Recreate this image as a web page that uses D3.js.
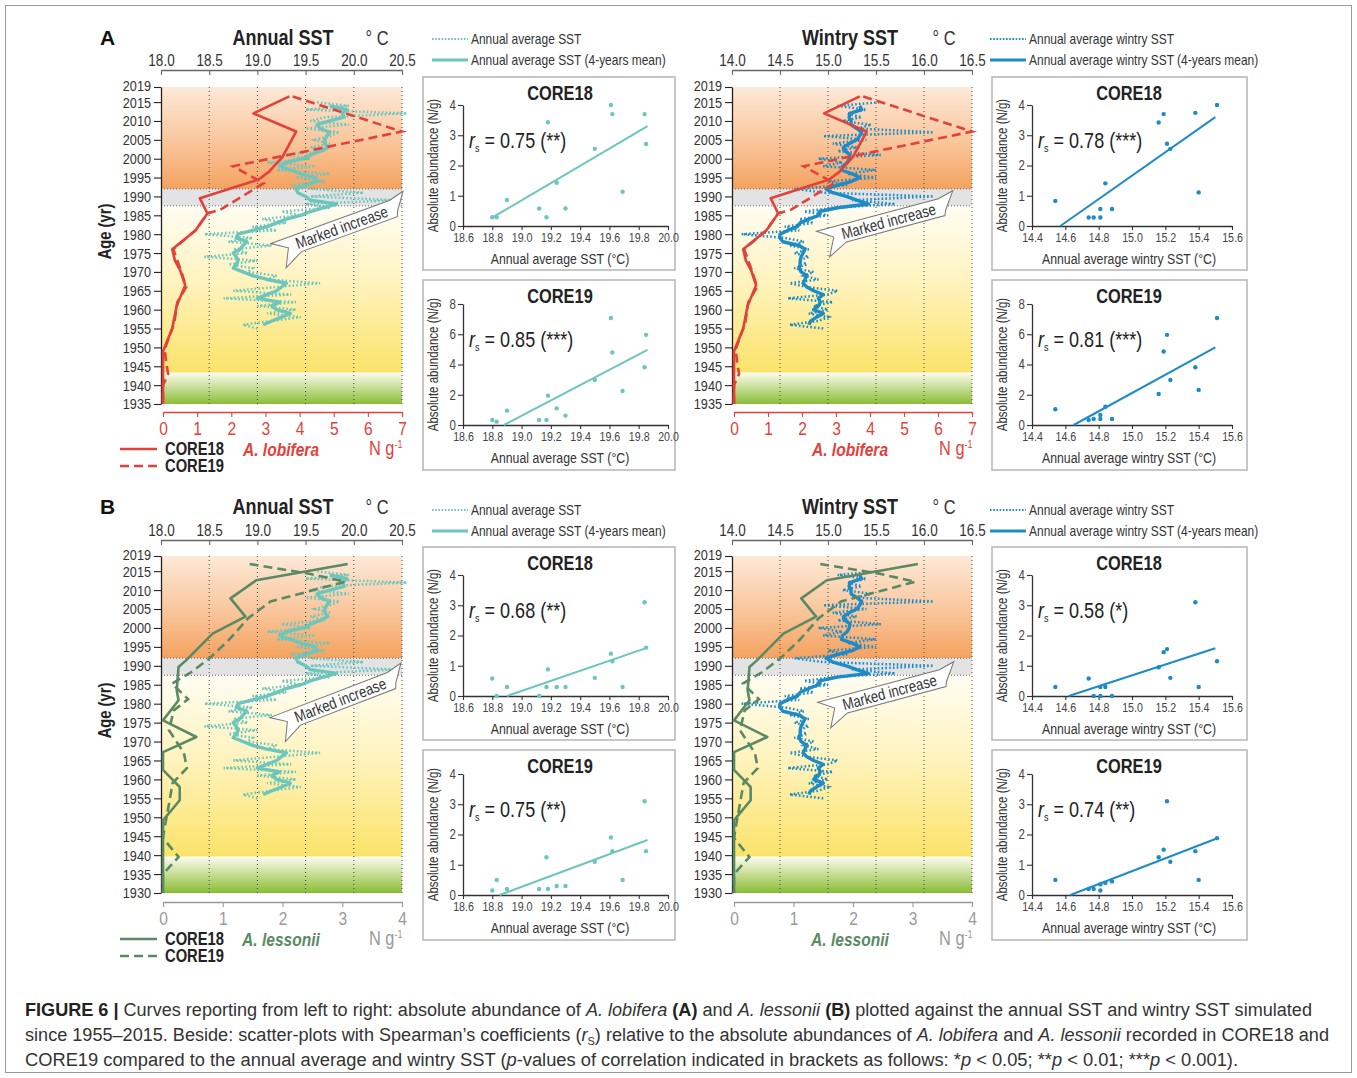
<!DOCTYPE html>
<html>
<head>
<meta charset="utf-8">
<script src="https://cdn.jsdelivr.net/npm/d3@7"></script>
<style>
  body { margin: 0; background: #fff; }
  svg text { font-family: "Liberation Sans", Arial, sans-serif; }
</style>
</head>
<body>
<svg id="fig" width="1357" height="1078"></svg>
<script>
// ---- data ----
const annualYears = d3.range(1955, 2016);   // yearly SST values
const meanYears = d3.range(1956, 2015);     // 4-year running mean values

const sstAnnual = [19.0, 18.85, 19.15, 19.45, 19.1, 19.4, 19.0, 19.4, 18.65, 19.35,
  18.75, 19.2, 19.65, 19.1, 19.2, 18.9, 18.95, 18.7, 19.0, 18.45,
  18.9, 18.75, 19.15, 18.7, 18.95, 18.45, 19.2, 18.95, 19.3, 19.05,
  19.45, 19.25, 19.75, 19.5, 20.45, 19.55, 20.1, 19.55, 19.35, 19.7,
  19.4, 19.75, 19.2, 19.6, 19.1, 19.55, 19.25, 19.7, 19.55, 19.75,
  19.6, 19.75, 19.85, 19.5, 19.95, 19.55, 19.7, 20.55, 19.5, 19.95, 19.6];
const sstMean = [19.06, 19.15, 19.25, 19.34, 19.2, 19.15, 19.23, 19.0, 19.1, 19.2,
  19.25, 19.3, 19.1, 18.95, 18.85, 18.75, 18.78, 18.8, 18.78, 18.75,
  18.82, 18.85, 18.89, 18.78, 18.8, 18.95, 19.1, 19.2, 19.3, 19.45,
  19.55, 19.68, 19.82, 19.55, 19.5, 19.42, 19.4, 19.5, 19.62, 19.6,
  19.45, 19.35, 19.23, 19.3, 19.47, 19.55, 19.65, 19.73, 19.7, 19.7,
  19.72, 19.75, 19.65, 19.62, 19.75, 19.9, 19.88, 19.93, 19.75];

const wintryAnnual = [14.95, 14.6, 14.9, 15.0, 14.8, 15.0, 14.85, 15.05, 14.58, 15.0,
  15.1, 14.78, 14.6, 14.9, 14.75, 14.85, 14.65, 14.78, 14.7, 14.8,
  14.65, 14.8, 14.6, 14.75, 14.55, 14.1, 14.7, 14.55, 14.85, 14.7,
  15.0, 14.75, 15.05, 15.7, 15.25, 16.1, 14.95, 14.65, 15.2, 15.0,
  15.5, 15.2, 15.5, 14.95, 15.15, 14.9, 15.55, 15.1, 15.3, 15.05,
  15.4, 14.95, 16.1, 15.3, 15.45, 15.15, 15.35, 15.2, 15.4, 15.1, 15.55];
const wintryMean = [14.8, 14.82, 14.88, 14.95, 14.85, 14.9, 14.92, 14.9, 14.95, 14.85,
  14.78, 14.74, 14.76, 14.78, 14.72, 14.7, 14.71, 14.71, 14.72, 14.74,
  14.76, 14.7, 14.53, 14.5, 14.5, 14.58, 14.68, 14.71, 14.8, 14.9,
  14.91, 15.1, 15.42, 15.3, 15.19, 15.05, 14.98, 15.1, 15.25, 15.33,
  15.25, 15.14, 15.15, 15.2, 15.22, 15.23, 15.18, 15.16, 15.22, 15.3,
  15.33, 15.35, 15.3, 15.24, 15.24, 15.22, 15.23, 15.35, 15.33];

// [age (yr), abundance N/g]
const lobifera18 = [[2016.5, 3.7], [2012, 2.65], [2007.2, 3.9], [2000.5, 3.5], [1996.5, 3.1],
  [1994.5, 2.8], [1989.5, 1.08], [1985.5, 1.3], [1981, 0.95], [1976, 0.27], [1973, 0.35],
  [1970.5, 0.5], [1966.5, 0.65], [1961, 0.4], [1955, 0.27], [1949, 0], [1935, 0]];
const lobifera19 = [[2016.5, 3.8], [2007.2, 7.0], [1998, 2.05], [1993.5, 2.95], [1986.5, 1.68],
  [1985.5, 1.3], [1981, 0.95], [1976, 0.3], [1970.5, 0.52], [1966, 0.68], [1962, 0.42],
  [1956.5, 0.33], [1949.5, 0.05], [1945.5, 0.1], [1943, 0.15], [1940, 0], [1935, 0]];
const lessonii18 = [[2016.9, 3.09], [2012.6, 1.56], [2007.8, 1.13], [2003, 1.38], [1998.5, 0.83],
  [1991.5, 0.39], [1989.7, 0.26], [1983.5, 0.23], [1980.9, 0.26], [1975.6, 0], [1971.2, 0.56],
  [1967.2, 0], [1962.5, 0], [1958, 0.28], [1954.5, 0.28], [1949.2, 0], [1930, 0]];
const lessonii19 = [[2016.9, 1.45], [2014.3, 2.45], [2012.2, 3.05], [2007, 1.8], [2002.5, 1.42],
  [1996.8, 1.1], [1992, 0.78], [1988.3, 0.47], [1985.3, 0.15], [1981.2, 0.42], [1978.2, 0.18],
  [1973, 0.1], [1967, 0.35], [1963, 0.4], [1959, 0.16], [1953.5, 0.1], [1947.5, 0.03],
  [1944.5, 0], [1939.5, 0.26], [1935, 0], [1930, 0]];

// scatter plots: x = SST of the sample, y = abundance
const scatAnnualX = [18.80, 18.83, 18.90, 19.12, 19.17, 19.18, 19.24, 19.30, 19.50, 19.61, 19.62, 19.69, 19.84, 19.85];
const scatWintryX = [14.54, 14.74, 14.77, 14.81, 14.81, 14.84, 14.88, 15.16, 15.19, 15.21, 15.23, 15.38, 15.40, 15.51];
const lobA18 = [0.29, 0.29, 0.86, 0.58, 0.29, 3.43, 1.43, 0.58, 2.55, 4.0, 3.70, 1.13, 3.70, 2.71];
const lobA19 = [0.33, 0.22, 0.95, 0.33, 0.33, 1.94, 1.1, 0.62, 2.98, 7.07, 4.79, 2.25, 3.82, 5.96];
const lobW18 = [0.83, 0.28, 0.28, 0.56, 0.28, 1.41, 0.56, 3.42, 3.7, 2.72, 2.55, 3.74, 1.11, 4.0];
const lobW19 = [1.04, 0.33, 0.4, 0.66, 0.4, 1.21, 0.4, 2.05, 4.86, 5.96, 2.98, 3.82, 2.32, 7.07];
const lesA18 = [0.58, 0, 0.3, 0, 0.3, 0.88, 0.3, 0.3, 0.6, 1.4, 1.15, 0.3, 3.1, 1.6];
const lesA19 = [0.15, 0.5, 0.2, 0.2, 1.25, 0.2, 0.3, 0.3, 1.1, 1.9, 1.45, 0.5, 3.1, 1.45];
const lesW18 = [0.3, 0.58, 0, 0.3, 0, 0.3, 0, 0.95, 1.45, 1.55, 0.6, 3.1, 0.3, 1.15];
const lesW19 = [0.5, 0.2, 0.2, 0.35, 0.15, 0.4, 0.45, 1.25, 1.5, 3.1, 1.1, 1.45, 0.5, 1.88];
// regression line end points [sst, abundance]
const regLobA18 = [[18.79, 0.25], [19.86, 3.3]];
const regLobA19 = [[18.88, 0], [19.86, 4.97]];
const regLobW18 = [[14.57, 0], [15.5, 3.6]];
const regLobW19 = [[14.65, 0], [15.5, 5.13]];
const regLesA18 = [[18.9, 0], [19.86, 1.6]];
const regLesA19 = [[18.85, 0], [19.86, 1.82]];
const regLesW18 = [[14.62, 0], [15.5, 1.58]];
const regLesW19 = [[14.63, 0], [15.5, 1.85]];

const sstTicksAnnual = [18.0, 18.5, 19.0, 19.5, 20.0, 20.5];
const sstTicksWintry = [14.0, 14.5, 15.0, 15.5, 16.0, 16.5];
const ageTicksA = [2019, 2015, 2010, 2005, 2000, 1995, 1990, 1985, 1980, 1975, 1970, 1965, 1960, 1955, 1950, 1945, 1940, 1935];
const ageTicksB = ageTicksA.concat([1930]);
const scatTicksAnnual = [18.6, 18.8, 19.0, 19.2, 19.4, 19.6, 19.8, 20.0];
const scatTicksWintry = [14.4, 14.6, 14.8, 15.0, 15.2, 15.4, 15.6];

const RED = '#e3413b', TEAL = '#6cc6bd', BLUE = '#1d8bc8', GREEN = '#5a8a64';
const NARROW = 0.82;  // Arial Narrow look: Liberation Sans squeezed horizontally

const svg = d3.select('#fig');
svg.append('rect').attr('x', 5.5).attr('y', 5.5).attr('width', 1346).attr('height', 1067)
  .attr('fill', 'none').attr('stroke', '#9a9a9a').attr('stroke-width', 1);

// gradients for the background zones
const defs = svg.append('defs');
function vGrad(id, stops) {
  const lg = defs.append('linearGradient').attr('id', id).attr('x1', 0).attr('y1', 0).attr('x2', 0).attr('y2', 1);
  stops.forEach(s => lg.append('stop').attr('offset', s[0]).attr('stop-color', s[1]));
}
vGrad('gOrange', [[0, '#fde9d8'], [0.55, '#f9c59a'], [1, '#f4a25f']]);
vGrad('gYellow', [[0, '#fffdf3'], [0.45, '#fff3bf'], [1, '#fbe36a']]);
vGrad('gGreen', [[0, '#fdfdf2'], [0.2, '#e6efc8'], [1, '#8bbd36']]);

function styleAxis(sel, color, textColor, size) {
  sel.select('.domain').attr('stroke', color).attr('stroke-width', 1.3);
  sel.selectAll('.tick line').attr('stroke', color).attr('stroke-width', 1.1);
  sel.selectAll('.tick text').attr('fill', textColor).style('font-size', size + 'px');
}

function arrow(g, a) {
  const ag = g.append('g').attr('transform', `translate(${a.x},${a.y}) rotate(${a.angle})`);
  ag.append('path')
    .attr('d', 'M0,-9 L126,-9 L142,-13 L130,4 L128,9 L26,9 L6,19 L15,1 Z')
    .attr('fill', '#fff').attr('stroke', '#777').attr('stroke-width', 1);
  ag.append('text').attr('x', 72).attr('y', 5.5).attr('text-anchor', 'middle')
    .style('font-size', '16px').attr('fill', '#333').text('Marked increase');
}

function strat(p) {
  const g = svg.append('g');
  const y = d3.scaleLinear().domain([2019, p.yMin]).range([p.yTop, p.yBot]);
  const sx = d3.scaleLinear().domain([p.sstTicks[0], p.sstTicks[p.sstTicks.length - 1]]).range([p.x0, p.x1]);
  const ax = d3.scaleLinear().domain([0, p.abMax]).range([p.x0 + 2, p.x1]);
  const w = p.x1 - p.x0;

  const zone = (top, bot, fill) => g.append('rect').attr('x', p.x0).attr('width', w)
    .attr('y', y(top)).attr('height', y(bot) - y(top)).attr('fill', fill);
  zone(2019, 1992, 'url(#gOrange)');
  zone(1992, 1987.5, '#e3e3e3');
  zone(1987.5, p.greenTop, 'url(#gYellow)');
  zone(p.greenTop, p.yMin, 'url(#gGreen)');

  [1992, 1987.5].forEach(yr => g.append('line').attr('x1', p.x0).attr('x2', p.x1)
    .attr('y1', y(yr)).attr('y2', y(yr)).attr('stroke', '#666').attr('stroke-width', 1)
    .attr('stroke-dasharray', '1,2'));
  p.sstTicks.slice(1).forEach(t => g.append('line').attr('x1', sx(t)).attr('x2', sx(t))
    .attr('y1', p.yTop).attr('y2', p.yBot).attr('stroke', '#444').attr('stroke-width', 1)
    .attr('stroke-dasharray', '1,3'));

  // axes
  const top = g.append('g').attr('transform', `translate(0,${p.topY})`)
    .call(d3.axisTop(sx).tickValues(p.sstTicks).tickFormat(d3.format('.1f')).tickSizeInner(-5).tickSizeOuter(0).tickPadding(4));
  styleAxis(top, '#666', '#333', 16.5);
  const left = g.append('g').attr('transform', `translate(${p.x0},0)`)
    .call(d3.axisLeft(y).tickValues(p.ageTicks).tickFormat(d3.format('d')).tickSize(7).tickSizeOuter(0).tickPadding(3));
  styleAxis(left, '#222', '#333', 15.5);
  // the top label sits a little higher so it clears 2015
  left.selectAll('.tick').filter(d => d === 2019).select('text').attr('dy', '0.2em');
  const bottom = g.append('g').attr('transform', `translate(0,${p.bottomY})`)
    .call(d3.axisBottom(ax).tickValues(d3.range(0, p.abMax + 1)).tickFormat(d3.format('d')).tickSize(5).tickSizeOuter(0).tickPadding(5));
  styleAxis(bottom, p.abAxisColor, p.abTextColor, 19);

  // SST curves
  const sstLine = d3.line().x(d => sx(d[1])).y(d => y(d[0]));
  g.append('path').datum(annualYears.map((yr, i) => [yr, p.sstAnnual[i]]))
    .attr('d', sstLine).attr('fill', 'none').attr('stroke', p.sstColor)
    .attr('stroke-width', 2.5).attr('stroke-dasharray', '1.6,2.2');
  g.append('path').datum(meanYears.map((yr, i) => [yr, p.sstMean[i]]))
    .attr('d', sstLine).attr('fill', 'none').attr('stroke', p.sstColor)
    .attr('stroke-width', 3.4).attr('stroke-linejoin', 'round');

  // abundance curves
  const abLine = d3.line().x(d => ax(d[1])).y(d => y(d[0]));
  g.append('path').datum(p.core19).attr('d', abLine).attr('fill', 'none')
    .attr('stroke', p.abColor).attr('stroke-width', 2.6).attr('stroke-dasharray', '9,5');
  g.append('path').datum(p.core18).attr('d', abLine).attr('fill', 'none')
    .attr('stroke', p.abColor).attr('stroke-width', 2.6).attr('stroke-linejoin', 'round');

  arrow(g, p.arrow);

  // titles
  g.append('text').attr('x', p.titleX).attr('y', p.titleY).attr('text-anchor', 'middle')
    .style('font-size', '22px').style('font-weight', 'bold').attr('fill', '#222').text(p.title);
  g.append('text').attr('x', p.titleX + 94).attr('y', p.titleY).attr('text-anchor', 'middle')
    .style('font-size', '20px').attr('fill', '#333').text('° C');
  if (p.letter) {
    g.append('text').attr('class', 'wide').attr('x', 100).attr('y', p.titleY)
      .style('font-size', '21px').style('font-weight', 'bold').attr('fill', '#111').text(p.letter);
    g.append('text').attr('transform', `translate(111,${(p.yTop + p.yBot) / 2 - 14}) rotate(-90)`)
      .attr('text-anchor', 'middle').style('font-size', '18px').style('font-weight', 'bold')
      .attr('fill', '#222').text('Age (yr)');
  }
  // species & unit
  g.append('text').attr('x', p.speciesX).attr('y', p.bottomY + 44).attr('text-anchor', 'middle')
    .style('font-size', '19px').style('font-weight', 'bold').style('font-style', 'italic')
    .attr('fill', p.abColor).text(p.species);
  const u = g.append('text').attr('x', p.x1 - 33).attr('y', p.bottomY + 43)
    .style('font-size', '20px').attr('fill', p.abTextColor).text('N g');
  u.append('tspan').attr('dy', -7).style('font-size', '11px').text('-1');

  if (p.legendX) {
    [['CORE18', null, 0], ['CORE19', '9,5', 17]].forEach(([lab, dash, dy]) => {
      const ly = p.bottomY + 37 + dy;
      g.append('line').attr('x1', p.legendX).attr('x2', p.legendX + 37).attr('y1', ly).attr('y2', ly)
        .attr('stroke', p.abColor).attr('stroke-width', 2.6).attr('stroke-dasharray', dash);
      g.append('text').attr('x', p.legendX + 45).attr('y', ly + 6).style('font-size', '18px')
        .style('font-weight', 'bold').attr('fill', '#222').text(lab);
    });
  }
}

function sstLegend(x, y0, color, label) {
  const g = svg.append('g');
  [[label, '1.6,1.6', 0], [label + ' (4-years mean)', null, 21]].forEach(([lab, dash, dy]) => {
    g.append('line').attr('x1', x).attr('x2', x + 36).attr('y1', y0 + dy).attr('y2', y0 + dy)
      .attr('stroke', color).attr('stroke-width', dash ? 2 : 3).attr('stroke-dasharray', dash);
    g.append('text').attr('x', x + 39).attr('y', y0 + dy + 5).style('font-size', '14.6px')
      .attr('fill', '#333').text(lab);
  });
}

function scatter(s) {
  const g = svg.append('g');
  g.append('rect').attr('x', s.bx).attr('y', s.by).attr('width', s.bw).attr('height', s.bh)
    .attr('fill', '#fff').attr('stroke', '#b5b5b5').attr('stroke-width', 1.5);
  const x = d3.scaleLinear().domain([s.xTicks[0], s.xTicks[s.xTicks.length - 1]]).range(s.xr);
  const y = d3.scaleLinear().domain([0, s.yMax]).range(s.yr);

  const xa = g.append('g').attr('transform', `translate(0,${s.yr[0]})`)
    .call(d3.axisBottom(x).tickValues(s.xTicks).tickFormat(d3.format('.1f')).tickSize(4).tickSizeOuter(0).tickPadding(3));
  styleAxis(xa, '#333', '#444', 13);
  const ya = g.append('g').attr('transform', `translate(${s.xr[0]},0)`)
    .call(d3.axisLeft(y).tickValues(d3.range(0, s.yMax + 0.01, s.yStep)).tickFormat(d3.format('d')).tickSize(5).tickSizeOuter(0).tickPadding(2));
  styleAxis(ya, '#333', '#444', 14);

  g.append('line').attr('x1', x(s.reg[0][0])).attr('y1', y(s.reg[0][1]))
    .attr('x2', x(s.reg[1][0])).attr('y2', y(s.reg[1][1]))
    .attr('stroke', s.color).attr('stroke-width', 2);
  g.selectAll('circle.pt').data(s.xs.map((v, i) => [v, s.ys[i]])).enter().append('circle')
    .attr('cx', d => x(d[0])).attr('cy', d => y(d[1])).attr('r', 2.2).attr('fill', s.color);

  g.append('text').attr('x', s.titleX).attr('y', s.by + 23).attr('text-anchor', 'middle')
    .style('font-size', '20px').style('font-weight', 'bold').attr('fill', '#222').text(s.title);
  g.append('text').attr('x', s.titleX).attr('y', s.yr[0] + 38).attr('text-anchor', 'middle')
    .style('font-size', '15px').attr('fill', '#333').text(s.xLabel);
  g.append('text').attr('transform', `translate(${s.bx + 15},${(s.yr[0] + s.yr[1]) / 2}) rotate(-90)`)
    .attr('text-anchor', 'middle').style('font-size', '14px').attr('fill', '#333').text('Absolute abundance (N/g)');
  const r = g.append('text').attr('x', s.xr[0] + 6).attr('y', s.yr[1] + 43).style('font-size', '22px').attr('fill', '#222');
  r.append('tspan').style('font-style', 'italic').text('r');
  r.append('tspan').attr('dy', 4).style('font-size', '11px').text('s');
  r.append('tspan').attr('dy', -4).text(' = ' + s.rs);
}

// ---- panel A ----
const panelA = { yTop: 87, yBot: 404, yMin: 1935, greenTop: 1943.3, ageTicks: ageTicksA, topY: 70, bottomY: 412, titleY: 45,
  abMax: 7, abColor: RED, abAxisColor: RED, abTextColor: RED, species: 'A. lobifera', core18: lobifera18, core19: lobifera19 };
const panelB = { yTop: 556, yBot: 893, yMin: 1930, greenTop: 1939.6, ageTicks: ageTicksB, topY: 540, bottomY: 902, titleY: 514,
  abMax: 4, abColor: GREEN, abAxisColor: '#999', abTextColor: '#999', species: 'A. lessonii', core18: lessonii18, core19: lessonii19 };
const annualSide = { x0: 161, x1: 402, sstTicks: sstTicksAnnual, sstAnnual: sstAnnual, sstMean: sstMean, sstColor: TEAL,
  title: 'Annual SST', titleX: 283, legendX: 120, speciesX: 281 };
const wintrySide = { x0: 732, x1: 972, sstTicks: sstTicksWintry, sstAnnual: wintryAnnual, sstMean: wintryMean, sstColor: BLUE,
  title: 'Wintry SST', titleX: 850, legendX: null, speciesX: 850 };

strat(Object.assign({}, panelA, annualSide, { letter: 'A', arrow: { x: 274, y: 252, angle: -20 } }));
strat(Object.assign({}, panelA, wintrySide, { arrow: { x: 819, y: 240, angle: -15 } }));
strat(Object.assign({}, panelB, annualSide, { letter: 'B', arrow: { x: 273, y: 726, angle: -21 } }));
strat(Object.assign({}, panelB, wintrySide, { arrow: { x: 820, y: 711, angle: -15 } }));

sstLegend(432, 39, TEAL, 'Annual average SST');
sstLegend(990, 39, BLUE, 'Annual average wintry SST');
sstLegend(432, 510, TEAL, 'Annual average SST');
sstLegend(990, 510, BLUE, 'Annual average wintry SST');

const annualBox = { bx: 423, bw: 252, xr: [463, 668], xTicks: scatTicksAnnual, xs: scatAnnualX, color: TEAL, titleX: 560, xLabel: 'Annual average SST (°C)' };
const wintryBox = { bx: 992, bw: 255, xr: [1032, 1232], xTicks: scatTicksWintry, xs: scatWintryX, color: BLUE, titleX: 1129, xLabel: 'Annual average wintry SST (°C)' };
const rows = [
  { by: 77, bh: 193, yr: [226, 105], title: 'CORE18' },
  { by: 280, bh: 190, yr: [425, 304], title: 'CORE19' },
  { by: 547, bh: 193, yr: [696, 575], title: 'CORE18' },
  { by: 750, bh: 190, yr: [895, 774], title: 'CORE19' }
];
scatter(Object.assign({}, annualBox, rows[0], { yMax: 4, yStep: 1, ys: lobA18, reg: regLobA18, rs: '0.75 (**)' }));
scatter(Object.assign({}, annualBox, rows[1], { yMax: 8, yStep: 2, ys: lobA19, reg: regLobA19, rs: '0.85 (***)' }));
scatter(Object.assign({}, wintryBox, rows[0], { yMax: 4, yStep: 1, ys: lobW18, reg: regLobW18, rs: '0.78 (***)' }));
scatter(Object.assign({}, wintryBox, rows[1], { yMax: 8, yStep: 2, ys: lobW19, reg: regLobW19, rs: '0.81 (***)' }));
scatter(Object.assign({}, annualBox, rows[2], { yMax: 4, yStep: 1, ys: lesA18, reg: regLesA18, rs: '0.68 (**)' }));
scatter(Object.assign({}, annualBox, rows[3], { yMax: 4, yStep: 1, ys: lesA19, reg: regLesA19, rs: '0.75 (**)' }));
scatter(Object.assign({}, wintryBox, rows[2], { yMax: 4, yStep: 1, ys: lesW18, reg: regLesW18, rs: '0.58 (*)' }));
scatter(Object.assign({}, wintryBox, rows[3], { yMax: 4, yStep: 1, ys: lesW19, reg: regLesW19, rs: '0.74 (**)' }));

// squeeze every text horizontally around its anchor point (narrow face)
svg.selectAll('text:not(.wide)').each(function () {
  const t = d3.select(this);
  const x = +t.attr('x') || 0;
  const prev = t.attr('transform') || '';
  t.attr('transform', `${prev} translate(${x},0) scale(${NARROW},1) translate(${-x},0)`);
});

// ---- caption ----
const captionLines = [
  [['FIGURE 6 |', 'b'], [' Curves reporting from left to right: absolute abundance of '], ['A. lobifera', 'i'], [' '], ['(A)', 'b'],
   [' and '], ['A. lessonii', 'i'], [' '], ['(B)', 'b'], [' plotted against the annual SST and wintry SST simulated']],
  [['since 1955–2015. Beside: scatter-plots with Spearman’s coefficients ('], ['r', 'i'], ['S', 'sub'],
   [') relative to the absolute abundances of '], ['A. lobifera', 'i'], [' and '], ['A. lessonii', 'i'], [' recorded in CORE18 and']],
  [['CORE19 compared to the annual average and wintry SST ('], ['p', 'i'], ['-values of correlation indicated in brackets as follows: *'],
   ['p', 'i'], [' < 0.05; **'], ['p', 'i'], [' < 0.01; ***'], ['p', 'i'], [' < 0.001).']]
];
const captionWidths = [1287, 1304, 1213];
captionLines.forEach((parts, li) => {
  const t = svg.append('text').attr('x', 25).attr('y', 1016 + li * 25).style('font-size', '18px').attr('fill', '#333');
  let shifted = false;
  parts.forEach(([txt, st]) => {
    const sp = t.append('tspan').text(txt);
    if (st === 'b') sp.style('font-weight', 'bold').attr('fill', '#222');
    if (st === 'i') sp.style('font-style', 'italic');
    if (st === 'sub') { sp.attr('dy', 4).style('font-size', '11px'); shifted = true; }
    else if (shifted) { sp.attr('dy', -4); shifted = false; }
  });
  t.attr('textLength', captionWidths[li]).attr('lengthAdjust', 'spacingAndGlyphs');
});
</script>
</body>
</html>
